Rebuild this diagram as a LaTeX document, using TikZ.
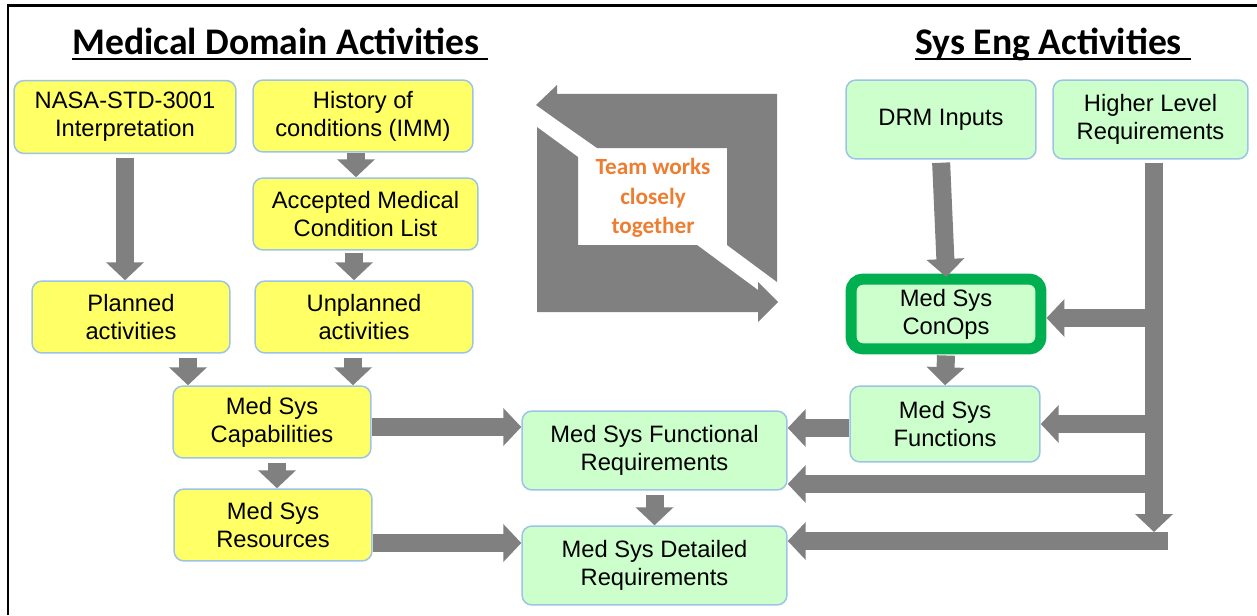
\documentclass[tikz,border=0pt]{standalone}
\usepackage{fontspec}
\setmainfont{Liberation Sans}
\newfontfamily\calibri{Carlito}
\usetikzlibrary{arrows.meta}

\definecolor{boxyellow}{HTML}{FFFF66}
\definecolor{boxgreen}{HTML}{CCFFCC}
\definecolor{boxedge}{HTML}{9DC3E6}
\definecolor{flowgray}{HTML}{808080}
\definecolor{conopsgreen}{HTML}{00B050}
\definecolor{teamorange}{HTML}{ED7D31}

\newsavebox{\headbox}
\newcommand{\headline}[1]{\sbox{\headbox}{#1}\rlap{\rule[-3pt]{\wd\headbox}{1.2pt}}\usebox{\headbox}}

\tikzset{
    box/.style={draw=boxedge, line width=0.03cm, rounded corners=0.2cm, align=center,
        inner sep=0pt, font=\fontsize{13.5}{16}\selectfont},
    medbox/.style={box, fill=boxyellow},
    sysbox/.style={box, fill=boxgreen},
    flow/.style={draw=flowgray, line width=0.36cm, -{Triangle[width=0.74cm,length=0.36cm]}},
    heading/.style={anchor=base west, inner sep=0pt, font=\calibri\bfseries\fontsize{21.4}{25}\selectfont},
}

\begin{document}
\begin{tikzpicture}[x=0.02cm, y=-0.02cm]
    \useasboundingbox (0,0) rectangle (1257,615);
    \draw[line width=0.06cm] (8,615) -- (8,6) -- (1257,6);

    \node[heading] (medtitle) at (72,55) {\headline{Medical Domain Activities\ }};
    \node[heading] (systitle) at (915,55) {\headline{Sys Eng Activities\ }};

    % medical domain boxes
    \node[medbox, minimum width=4.44cm, minimum height=1.46cm] (nasa) at (125,117) {NASA-STD-3001\\Interpretation};
    \node[medbox, minimum width=4.40cm, minimum height=1.44cm] (history) at (363,116) {History of\\conditions (IMM)};
    \node[medbox, minimum width=4.50cm, minimum height=1.44cm] (accepted) at (365.5,214) {Accepted Medical\\Condition List};
    \node[medbox, minimum width=3.96cm, minimum height=1.44cm] (planned) at (131,317) {Planned\\activities};
    \node[medbox, minimum width=4.36cm, minimum height=1.44cm] (unplanned) at (364,317) {Unplanned\\activities};
    \node[medbox, minimum width=3.96cm, minimum height=1.44cm] (capab) at (272,422) {Med Sys\\Capabilities};
    \node[medbox, minimum width=3.96cm, minimum height=1.44cm] (resources) at (273,525) {Med Sys\\Resources};

    % sys eng boxes
    \node[sysbox, minimum width=5.30cm, minimum height=1.58cm] (funcreq) at (654.5,450.5) {Med Sys Functional\\Requirements};
    \node[sysbox, minimum width=5.30cm, minimum height=1.58cm] (detreq) at (654.5,565.5) {Med Sys Detailed\\Requirements};
    \node[sysbox, minimum width=3.80cm, minimum height=1.58cm] (drm) at (941,119.5) {DRM Inputs};
    \node[sysbox, minimum width=3.90cm, minimum height=1.58cm] (higher) at (1150.5,119.5) {Higher Level\\Requirements};
    \node[sysbox, minimum width=3.80cm, minimum height=1.52cm] (functions) at (945,424) {Med Sys\\Functions};
    \node[sysbox, draw=conopsgreen, line width=0.22cm, rounded corners=0.24cm,
        minimum width=3.8cm, minimum height=1.4cm] (conops) at (946,314) {Med Sys\\ConOps};

    % medical side
    \draw[flow, shorten <=0.08cm] (nasa.south) -- (nasa.south |- planned.north);
    \draw[flow] ([xshift=-0.14cm]history.south) -- ([xshift=-0.14cm]history.south |- accepted.north);
    \draw[flow, shorten <=0.04cm] ([xshift=-0.23cm]accepted.south) -- ([xshift=-0.23cm]accepted.south |- unplanned.north);
    \draw[flow, shorten <=0.08cm] ([xshift=1.14cm]planned.south) -- ([xshift=1.14cm]planned.south |- capab.north);
    \draw[flow, shorten <=0.08cm] ([xshift=-0.22cm]unplanned.south) -- ([xshift=-0.22cm]unplanned.south |- capab.north);
    \draw[flow, shorten <=0.08cm] ([xshift=0.1cm]capab.south) -- ([xshift=0.1cm]capab.south |- resources.north);
    \draw[flow] ([yshift=-0.1cm]capab.east) -- ([yshift=-0.1cm]capab.east -| funcreq.west);
    \draw[flow] ([yshift=-0.36cm]resources.east) -- ([yshift=-0.36cm]resources.east -| detreq.west);
    \draw[flow, shorten <=0.08cm] (funcreq.south) -- (detreq.north);

    % sys eng side
    \draw[flow, shorten <=0.06cm, shorten >=-0.07cm] (drm.south) -- (conops.north);
    \draw[flow, shorten <=0.02cm] (conops.south) -- (functions.north);
    \draw[flow] ([yshift=-0.08cm]functions.west) -- ([yshift=-0.08cm]functions.west -| funcreq.east);
    \coordinate (trunk) at (1154,532);
    \coordinate (barend) at (1168,541);
    \draw[flow, shorten <=0.06cm] (higher.south -| trunk) -- (trunk);
    \draw[flow] ([yshift=-0.08cm]conops.east -| trunk) -- ([yshift=-0.08cm]conops.east);
    \draw[flow] (functions.east -| trunk) -- (functions.east);
    \draw[flow] ([yshift=-0.67cm]funcreq.east -| trunk) -- ([yshift=-0.67cm]funcreq.east);
    \draw[flow] (barend) -- (barend -| detreq.east);

    % team symbol
    \fill[flowgray] (536,105) -- (557,85) -- (557,94) -- (777,94) -- (777,282) -- (727,245)
        -- (727,148) -- (597,148) -- (557,120) -- cycle;
    \fill[flowgray] (537,127) -- (578,157) -- (578,245) -- (697,245) -- (758,290) -- (758,282)
        -- (778,302) -- (758,322) -- (758,312) -- (537,312) -- cycle;
    \node[text=teamorange, align=center, font=\calibri\bfseries\fontsize{13.2}{16.8}\selectfont]
        (team) at (653,198) {Team works\\closely\\together};
\end{tikzpicture}
\end{document}
